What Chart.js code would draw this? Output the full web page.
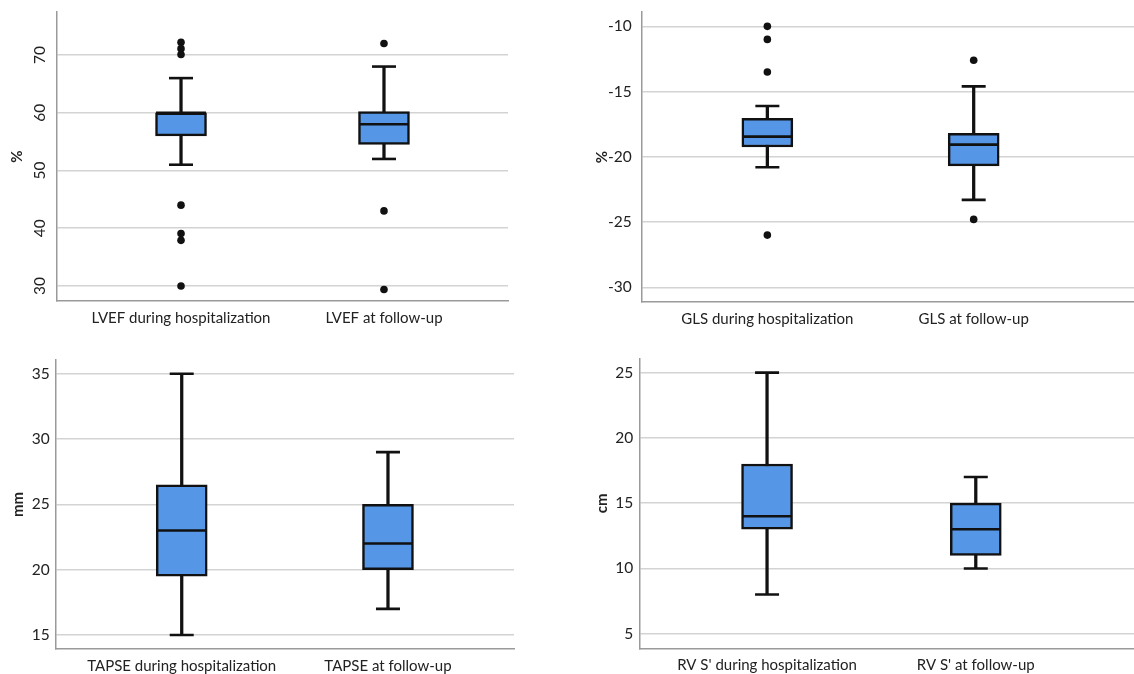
<!DOCTYPE html>
<html>
<head>
<meta charset="utf-8">
<script src="https://cdn.jsdelivr.net/npm/chart.js@4.4.1/dist/chart.umd.min.js"></script>
<style>
  body { margin: 0; background: #fff; }
  #wrap { position: relative; width: 1134px; height: 674px; overflow: hidden; }
  canvas { position: absolute; }
</style>
</head>
<body>
<div id="wrap">
  <canvas id="c1" width="567" height="340" style="left:0;top:0"></canvas>
  <canvas id="c2" width="567" height="340" style="left:567px;top:0"></canvas>
  <canvas id="c3" width="567" height="334" style="left:0;top:340px"></canvas>
  <canvas id="c4" width="567" height="334" style="left:567px;top:340px"></canvas>
</div>
<script>
// --- data ---
const lvefLabels = ['LVEF during hospitalization', 'LVEF at follow-up'];
const lvefMin = [51, 52];
const lvefQ1 = [56, 54.5];
const lvefMedian = [60, 58];
const lvefQ3 = [60, 60.2];
const lvefMax = [66, 68];
const lvefOutliers = [[72.2, 71.1, 70.1, 44, 39.1, 37.9, 30], [72, 43, 29.4]];
const lvefTicks = [30, 40, 50, 60, 70];

const glsLabels = ['GLS during hospitalization', 'GLS at follow-up'];
const glsMin = [-20.8, -23.3];
const glsQ1 = [-19.25, -20.7];
const glsMedian = [-18.45, -19.07];
const glsQ3 = [-17.05, -18.2];
const glsMax = [-16.1, -14.6];
const glsOutliers = [[-10, -11, -13.5, -26], [-12.6, -24.8]];
const glsTicks = [-30, -25, -20, -15, -10];

const tapseLabels = ['TAPSE during hospitalization', 'TAPSE at follow-up'];
const tapseMin = [15, 17];
const tapseQ1 = [19.5, 20];
const tapseMedian = [23, 22];
const tapseQ3 = [26.5, 25];
const tapseMax = [35, 29];
const tapseOutliers = [[], []];
const tapseTicks = [15, 20, 25, 30, 35];

const rvLabels = ["RV S' during hospitalization", "RV S' at follow-up"];
const rvMin = [8, 10];
const rvQ1 = [13, 11];
const rvMedian = [14, 13];
const rvQ3 = [18, 15];
const rvMax = [25, 17];
const rvOutliers = [[], []];
const rvTicks = [5, 10, 15, 20, 25];

Chart.defaults.font.family = 'Lato, "Open Sans", sans-serif';
Chart.defaults.color = '#222';

const BOX_FILL = '#5596e6';
const INK = '#111';

// one box-plot panel: floating bars for boxes/whiskers, line points for caps/median
function boxPanel(id, p) {
  const xs = p.labels.map((_, i) => i + 1);
  const at = arr => arr.map((v, i) => ({ x: xs[i], y: v }));
  const caps = [...at(p.min), ...at(p.max)];
  const outliers = [];
  p.outliers.forEach((list, i) => list.forEach(v => outliers.push({ x: xs[i], y: v })));

  return new Chart(document.getElementById(id), {
    type: 'bar',
    data: {
      datasets: [
        { type: 'scatter', data: at(p.median), order: 1,
          pointStyle: 'line', pointRadius: 25, pointBorderWidth: 2.6, pointBorderColor: INK },
        { type: 'scatter', data: caps, order: 1,
          pointStyle: 'line', pointRadius: 12, pointBorderWidth: 2.6, pointBorderColor: INK },
        { type: 'scatter', data: outliers, order: 1,
          pointStyle: 'circle', pointRadius: 3.8, pointBorderWidth: 0, pointBackgroundColor: INK },
        { type: 'bar', data: p.q1.map((v, i) => ({ x: xs[i], y: [v, p.q3[i]] })), order: 2,
          grouped: false, barThickness: 51, backgroundColor: BOX_FILL,
          borderColor: INK, borderWidth: 2.5, borderSkipped: false },
        { type: 'bar', data: p.min.map((v, i) => ({ x: xs[i], y: [v, p.max[i]] })), order: 3,
          grouped: false, barThickness: 2.6, backgroundColor: INK, borderWidth: 0 }
      ]
    },
    options: {
      responsive: false,
      animation: false,
      events: [],
      layout: { autoPadding: false, padding: { top: p.top, right: p.right, left: 0, bottom: 0 } },
      plugins: { legend: { display: false }, tooltip: { enabled: false } },
      scales: {
        x: {
          type: 'linear', offset: false, min: p.xMin, max: p.xMax,
          afterBuildTicks: s => { s.ticks = xs.map(v => ({ value: v })); },
          afterFit: s => { s.height = p.xHeight; s.paddingLeft = 0; s.paddingRight = 0; },
          grid: { display: false, drawTicks: false },
          border: { display: true, color: '#9a9a9a', width: 1.5 },
          ticks: { autoSkip: false, maxRotation: 0, padding: 8, font: { size: 15 },
                   callback: (v) => p.labels[xs.indexOf(v)] }
        },
        y: {
          min: p.yMin, max: p.yMax,
          afterBuildTicks: s => { s.ticks = p.ticks.map(v => ({ value: v })); },
          afterFit: s => { s.width = p.yWidth; s.paddingTop = 0; s.paddingBottom = 0; },
          grid: { color: '#d3d3d3', lineWidth: 1.5, drawTicks: false },
          border: { display: true, color: '#9a9a9a', width: 1.5 },
          ticks: p.yTicks,
          title: { display: true, text: p.unit, font: { size: 15, weight: 'bold' },
                   padding: { top: p.titlePad, bottom: 0 } }
        }
      }
    }
  });
}

boxPanel('c1', {
  labels: lvefLabels, min: lvefMin, q1: lvefQ1, median: lvefMedian, q3: lvefQ3, max: lvefMax,
  outliers: lvefOutliers, ticks: lvefTicks, unit: '%',
  yMin: 27.4, yMax: 77.45, xMin: 0.389, xMax: 2.611,
  top: 12, right: 59, yWidth: 57, xHeight: 39, titlePad: 8,
  yTicks: { minRotation: 90, maxRotation: 90, crossAlign: 'center', padding: 8, font: { size: 15.5 } }
});

boxPanel('c2', {
  labels: glsLabels, min: glsMin, q1: glsQ1, median: glsMedian, q3: glsQ3, max: glsMax,
  outliers: glsOutliers, ticks: glsTicks, unit: '%',
  yMin: -31.13, yMax: -8.9, xMin: 0.391, xMax: 2.777,
  top: 12, right: 0, yWidth: 74.7, xHeight: 38, titlePad: 26,
  yTicks: { padding: 10, font: { size: 15.5 } }
});

boxPanel('c3', {
  labels: tapseLabels, min: tapseMin, q1: tapseQ1, median: tapseMedian, q3: tapseQ3, max: tapseMax,
  outliers: tapseOutliers, ticks: tapseTicks, unit: 'mm',
  yMin: 13.93, yMax: 36.05, xMin: 0.389, xMax: 2.611,
  top: 20, right: 53, yWidth: 55.7, xHeight: 25, titlePad: 9,
  yTicks: { padding: 6, font: { size: 15.5 } }
});

boxPanel('c4', {
  labels: rvLabels, min: rvMin, q1: rvQ1, median: rvMedian, q3: rvQ3, max: rvMax,
  outliers: rvOutliers, ticks: rvTicks, unit: 'cm',
  yMin: 3.88, yMax: 26.1, xMin: 0.388, xMax: 2.758,
  top: 18.3, right: 0, yWidth: 72.3, xHeight: 25.7, titlePad: 26,
  yTicks: { padding: 6, font: { size: 15.5 } }
});
</script>
</body>
</html>
